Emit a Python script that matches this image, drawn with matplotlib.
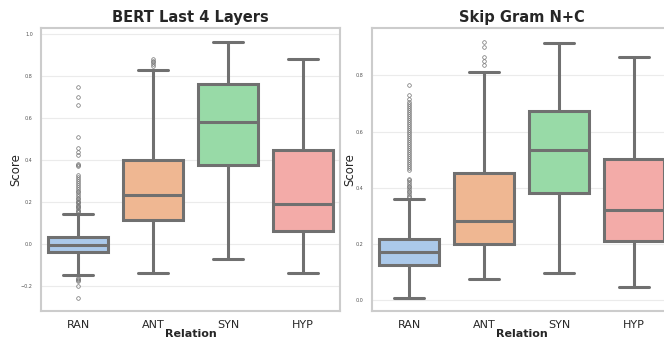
import matplotlib
matplotlib.use('Agg')
import matplotlib.pyplot as plt
import seaborn as sns

# Relation categories (same for both panels)
RELATIONS = ['RAN', 'ANT', 'SYN', 'HYP']

# BERT Last 4 Layers - box stats
bert_q1 = [-0.037, 0.114, 0.375, 0.063]
bert_med = [-0.003, 0.233, 0.581, 0.192]
bert_q3 = [0.035, 0.403, 0.762, 0.449]
bert_lo = [-0.146, -0.138, -0.071, -0.138]
bert_hi = [0.143, 0.830, 0.965, 0.882]
bert_fliers = [
    [0.152, 0.158, 0.164, 0.170, 0.176, 0.182, 0.188, 0.194, 0.200, 0.207,
     0.214, 0.222, 0.230, 0.238, 0.246, 0.255, 0.262, 0.270, 0.280, 0.290,
     0.300, 0.310, 0.322, 0.330, 0.370, 0.376, 0.381, 0.424, 0.440, 0.456,
     0.511, 0.665, 0.700, 0.750,
     -0.160, -0.166, -0.172, -0.178, -0.200, -0.256],
    [0.850, 0.858, 0.866, 0.874, 0.882],
    [],
    [],
]

# Skip Gram N+C - box stats
sg_q1 = [0.124, 0.200, 0.383, 0.212]
sg_med = [0.172, 0.283, 0.534, 0.321]
sg_q3 = [0.218, 0.453, 0.673, 0.501]
sg_lo = [0.008, 0.075, 0.096, 0.046]
sg_hi = [0.359, 0.812, 0.915, 0.866]
sg_fliers = [
    [0.366, 0.372, 0.378, 0.384, 0.390, 0.396, 0.402, 0.408, 0.414, 0.420,
     0.426, 0.432, 0.465, 0.472, 0.479, 0.486, 0.493, 0.500, 0.507, 0.514,
     0.521, 0.528, 0.535, 0.542, 0.549, 0.556, 0.563, 0.570, 0.577, 0.584,
     0.591, 0.598, 0.605, 0.612, 0.619, 0.626, 0.633, 0.640, 0.647, 0.654,
     0.661, 0.668, 0.675, 0.682, 0.690, 0.698, 0.706, 0.714, 0.730, 0.766],
    [0.837, 0.850, 0.866, 0.900, 0.920],
    [],
    [],
]

sns.set_style('whitegrid')
plt.rcParams['font.family'] = ['DejaVu Sans']

colors = [sns.desaturate(c, 0.75) for c in sns.color_palette('pastel')[:4]]
LINE = '#707070'


def make_stats(q1, med, q3, lo, hi, fliers):
    stats = []
    for i, name in enumerate(RELATIONS):
        stats.append({'label': name, 'q1': q1[i], 'med': med[i], 'q3': q3[i],
                      'whislo': lo[i], 'whishi': hi[i], 'fliers': fliers[i]})
    return stats


def draw(ax, stats, title):
    lw = 2.2
    bp = ax.bxp(stats, positions=range(len(stats)), widths=0.8,
                patch_artist=True, showfliers=True,
                boxprops=dict(edgecolor=LINE, linewidth=lw),
                medianprops=dict(color=LINE, linewidth=lw),
                whiskerprops=dict(color=LINE, linewidth=lw),
                capprops=dict(color=LINE, linewidth=lw),
                flierprops=dict(marker='o', markersize=2.6, markerfacecolor='none',
                                markeredgecolor=LINE, markeredgewidth=0.5))
    for patch, c in zip(bp['boxes'], colors):
        patch.set_facecolor(c)
    ax.set_xlim(-0.5, len(stats) - 0.5)
    ax.set_xticks(range(len(stats)))
    ax.set_xticklabels(RELATIONS, fontsize=8)
    ax.tick_params(axis='y', labelsize=3.5, labelcolor='#555555', pad=2)
    ax.tick_params(axis='x', pad=3)
    ax.set_title(title, fontsize=10.5, fontweight='bold', pad=4)
    ax.set_xlabel('Relation', fontsize=8, fontweight='bold')
    ax.xaxis.set_label_coords(0.5, -0.062)
    ax.set_ylabel('Score', fontsize=8.5)
    for s in ax.spines.values():
        s.set_edgecolor('#cccccc')
        s.set_linewidth(1.5)
    ax.grid(axis='x', visible=False)
    ax.grid(axis='y', color='#ebebeb', linewidth=0.8)


fig = plt.figure(figsize=(6.64, 3.38), dpi=100)
ax1 = fig.add_axes([0.061, 0.080, 0.4518, 0.837])
ax2 = fig.add_axes([0.5595, 0.080, 0.4518, 0.837])

draw(ax1, make_stats(bert_q1, bert_med, bert_q3, bert_lo, bert_hi, bert_fliers), 'BERT Last 4 Layers')
draw(ax2, make_stats(sg_q1, sg_med, sg_q3, sg_lo, sg_hi, sg_fliers), 'Skip Gram N+C')

ax1.set_ylim(-0.319, 1.03)
ax1.set_yticks([-0.2, 0.0, 0.2, 0.4, 0.6, 0.8, 1.0])
ax2.set_ylim(-0.038, 0.968)
ax2.set_yticks([0.0, 0.2, 0.4, 0.6, 0.8])
# ylabel sits a little closer to the tick labels than the default
ax1.yaxis.set_label_coords(-0.062, 0.5)
ax2.yaxis.set_label_coords(-0.05, 0.5)

fig.savefig('out.png', dpi=100)
